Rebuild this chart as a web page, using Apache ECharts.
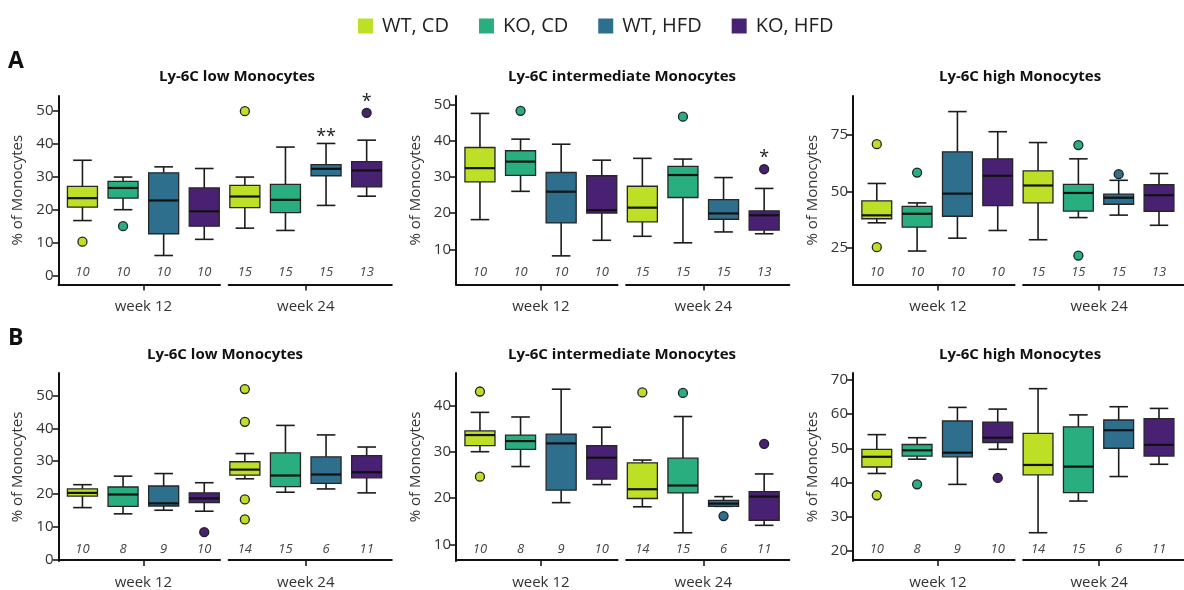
<!DOCTYPE html>
<html><head><meta charset="utf-8">
<script src="https://cdn.jsdelivr.net/npm/echarts@6/dist/echarts.min.js"></script>
<style>html,body{margin:0;padding:0;background:#fff}#c{width:1184px;height:590px}</style>
</head><body><div id="c"></div><script>
// ---------- data ----------
const groups = ['WT, CD', 'KO, CD', 'WT, HFD', 'KO, HFD'];
const groupColors = ['#bddf26', '#29af7f', '#2e6f8e', '#482173'];
const weeks = ['week 12', 'week 24'];
const nA = [10, 10, 10, 10, 15, 15, 15, 13];
const nB = [10, 8, 9, 10, 14, 15, 6, 11];

// each box: [lower whisker, Q1, median, Q3, upper whisker]; order week12 x4 groups, week24 x4 groups
const A_low = [[16.7,20.8,23.5,27.1,35.0],[20.0,23.5,26.6,28.6,29.9],[6.1,12.7,22.8,31.2,33.0],[11.0,15.0,19.5,26.6,32.5],
               [14.4,20.6,24.0,27.4,29.9],[13.7,19.1,23.0,27.7,39.0],[21.3,30.3,32.4,33.7,40.1],[24.1,26.9,31.9,34.6,41.1]];
const A_low_out = [[0,10.3],[1,15.0],[4,49.9],[7,49.4]];
const A_low_sig = [[6,43.3,'**'],[7,53.8,'*']];

const A_int = [[18.2,28.6,32.4,38.1,47.5],[26.0,30.4,34.2,37.2,40.4],[8.2,17.3,25.9,31.2,39.0],[12.5,20.0,20.8,30.3,34.6],
               [13.6,17.6,21.5,27.4,35.1],[11.8,24.3,30.5,32.9,34.9],[14.8,18.3,19.9,23.7,29.8],[14.3,15.3,19.4,20.6,26.8]];
const A_int_out = [[1,48.2],[5,46.6],[7,32.1]];
const A_int_sig = [[7,36.2,'*']];

const A_high = [[36.2,38.0,39.5,45.9,53.6],[23.7,34.3,40.2,43.5,45.0],[29.4,39.1,49.1,67.6,85.4],[32.8,43.8,57.0,64.5,76.5],
                [28.7,45.0,52.7,59.2,71.7],[38.5,41.4,49.4,53.2,64.5],[39.6,44.4,47.3,48.9,55.0],[35.1,41.3,48.4,53.1,58.0]];
const A_high_out = [[0,71.0],[0,25.4],[1,58.4],[5,70.6],[5,21.7],[6,57.7]];

const B_low = [[15.8,19.3,20.3,21.5,22.8],[13.9,16.2,19.8,22.1,25.4],[15.0,16.3,17.1,22.4,26.2],[14.7,17.3,18.6,20.3,23.4],
               [24.6,25.7,27.4,29.8,32.3],[20.5,22.2,25.6,32.5,40.9],[21.5,23.2,25.9,31.3,38.0],[20.3,24.9,26.6,31.7,34.3]];
const B_low_out = [[3,8.3],[4,52.0],[4,42.0],[4,18.3],[4,12.2]];

const B_int = [[30.0,31.3,33.6,34.5,38.5],[26.8,30.5,32.3,33.6,37.5],[19.0,21.7,31.8,33.8,43.5],[22.9,24.1,28.7,31.3,35.3],
               [18.1,19.9,21.9,27.6,28.2],[12.5,21.1,22.7,28.6,37.6],[18.2,18.2,18.8,19.5,20.3],[14.1,15.2,20.3,21.4,25.2]];
const B_int_out = [[0,43.0],[0,24.6],[4,42.8],[5,42.7],[6,16.1],[7,31.7]];

const B_high = [[42.6,44.5,47.5,49.7,54.0],[46.8,47.7,49.4,51.1,53.1],[39.4,47.5,48.7,58.0,62.0],[49.7,51.7,53.1,57.7,61.5],
                [25.2,42.2,45.1,54.4,67.5],[34.5,37.0,44.6,56.3,59.8],[41.7,50.0,55.3,58.3,62.2],[45.3,47.7,51.0,58.7,61.7]];
const B_high_out = [[0,36.2],[1,39.4],[3,41.3]];

const ticks_A_low = [0, 10, 20, 30, 40, 50];
const ticks_A_int = [10, 20, 30, 40, 50];
const ticks_A_high = [25, 50, 75];
const ticks_B_low = [0, 10, 20, 30, 40, 50];
const ticks_B_int = [10, 20, 30, 40];
const ticks_B_high = [20, 30, 40, 50, 60, 70];

const titles = ['Ly-6C low Monocytes', 'Ly-6C intermediate Monocytes', 'Ly-6C high Monocytes'];
const yName = '% of Monocytes';

// ---------- layout ----------
const FONT = 'Open Sans';
const UNIT = 40.6, X0 = -0.59, X1 = 7.62, BRK = [3.39, 3.60];
const colLeft = [58.5, 456, 853];
const rowTop = [96, 373], rowH = [188.5, 188];
const titleX = [[237, 622, 1020], [225, 622, 1020]];
const titleY = [77, 355];

const panels = [
  {row:0,col:0,stats:A_low, out:A_low_out, sig:A_low_sig, n:nA, ticks:ticks_A_low, range:[-2.7,54.5], title:titles[0]},
  {row:0,col:1,stats:A_int, out:A_int_out, sig:A_int_sig, n:nA, ticks:ticks_A_int, range:[0.3,52.3], title:titles[1]},
  {row:0,col:2,stats:A_high,out:A_high_out,sig:[],        n:nA, ticks:ticks_A_high,range:[8.9,92.3], title:titles[2]},
  {row:1,col:0,stats:B_low, out:B_low_out, sig:[],        n:nB, ticks:ticks_B_low, range:[-0.5,56.9], title:titles[0]},
  {row:1,col:1,stats:B_int, out:B_int_out, sig:[],        n:nB, ticks:ticks_B_int, range:[6.4,47.0], title:titles[1]},
  {row:1,col:2,stats:B_high,out:B_high_out,sig:[],        n:nB, ticks:ticks_B_high,range:[16.9,72.1], title:titles[2]}
];

const grid = [], xAxis = [], yAxis = [], series = [], graphic = [];

function renderBox(params, api) {
  const x = api.value(0);
  const lo = api.coord([x, api.value(1)]);
  const q1 = api.coord([x, api.value(2)]);
  const md = api.coord([x, api.value(3)]);
  const q3 = api.coord([x, api.value(4)]);
  const hi = api.coord([x, api.value(5)]);
  const band = api.size([1, 0])[0];
  const bw = band * 0.74, cw = bw * 0.62, cx = lo[0];
  const color = groupColors[api.value(6)];
  const cs = params.coordSys;
  const ls = {stroke: '#1c1c1c', lineWidth: 1.6};
  return {type: 'group', children: [
    {type: 'line', shape: {x1: cx, y1: hi[1], x2: cx, y2: q3[1]}, style: ls},
    {type: 'line', shape: {x1: cx, y1: q1[1], x2: cx, y2: lo[1]}, style: ls},
    {type: 'line', shape: {x1: cx - cw / 2, y1: hi[1], x2: cx + cw / 2, y2: hi[1]}, style: ls},
    {type: 'line', shape: {x1: cx - cw / 2, y1: lo[1], x2: cx + cw / 2, y2: lo[1]}, style: ls},
    {type: 'rect', shape: {x: cx - bw / 2, y: q3[1], width: bw, height: Math.max(q1[1] - q3[1], 1)},
     style: {fill: color, stroke: '#262626', lineWidth: 1.3}},
    {type: 'line', shape: {x1: cx - bw / 2, y1: md[1], x2: cx + bw / 2, y2: md[1]}, style: {stroke: '#111', lineWidth: 2.2}},
    {type: 'text', style: {text: String(api.value(7)), x: cx, y: cs.y + cs.height - 12, align: 'center', verticalAlign: 'middle',
      fontSize: 13, fontStyle: 'italic', fontFamily: FONT, fill: '#444'}}
  ]};
}

panels.forEach((p, pi) => {
  const left = colLeft[p.col], top = rowTop[p.row], h = rowH[p.row];
  const gMain = grid.length;
  grid.push({left: left, top: top, width: (X1 - X0) * UNIT, height: h});
  xAxis.push({gridIndex: gMain, type: 'value', min: X0, max: X1, show: false});
  yAxis.push({gridIndex: gMain, type: 'value', min: p.range[0], max: p.range[1],
    name: yName, nameLocation: 'middle', nameGap: 33, nameTextStyle: {fontSize: 15, color: '#333', fontFamily: FONT},
    axisLine: {show: true, onZero: false, lineStyle: {color: '#111', width: 2}},
    axisTick: {show: true, length: 6, customValues: p.ticks, lineStyle: {color: '#111', width: 1.5}},
    axisLabel: {show: true, customValues: p.ticks, fontSize: 15, color: '#333', margin: 5, fontFamily: FONT},
    splitLine: {show: false}});
  // week axes
  weeks.forEach((w, wi) => {
    const a = wi === 0 ? X0 : BRK[1], b = wi === 0 ? BRK[0] : X1;
    const gi = grid.length;
    grid.push({left: left + (a - X0) * UNIT, top: top, width: (b - a) * UNIT, height: h});
    const center = wi * groups.length + (groups.length - 1) / 2;
    xAxis.push({gridIndex: gi, type: 'value', min: a, max: b,
      axisLine: {show: true, onZero: false, lineStyle: {color: '#111', width: 2}},
      axisTick: {show: true, length: 6, customValues: [center], lineStyle: {color: '#111', width: 1.5}},
      axisLabel: {show: true, customValues: [center], formatter: () => w, fontSize: 15, color: '#333', margin: 15, fontFamily: FONT},
      splitLine: {show: false}});
    yAxis.push({gridIndex: gi, type: 'value', min: 0, max: 1, show: false});
  });
  // boxes
  series.push({type: 'custom', xAxisIndex: gMain, yAxisIndex: gMain, renderItem: renderBox,
    encode: {x: 0, y: [1, 2, 3, 4, 5]}, z: 3, silent: true,
    data: p.stats.map((s, i) => [i, s[0], s[1], s[2], s[3], s[4], i % groups.length, p.n[i]])});
  // outliers
  series.push({type: 'scatter', xAxisIndex: gMain, yAxisIndex: gMain, symbol: 'circle', symbolSize: 9, z: 4, silent: true,
    data: p.out.map(o => ({value: [o[0], o[1]], itemStyle: {color: groupColors[o[0] % groups.length], borderColor: '#222', borderWidth: 1.3, opacity: 1}}))});
  // significance marks
  if (p.sig.length) {
    series.push({type: 'scatter', xAxisIndex: gMain, yAxisIndex: gMain, symbolSize: 1, itemStyle: {color: 'rgba(0,0,0,0)', opacity: 1}, z: 5, silent: true,
      label: {show: true, position: 'inside', formatter: q => q.data.name, fontSize: 18, color: '#222', fontFamily: FONT, offset: [0, 4]},
      data: p.sig.map(s => ({name: s[2], value: [s[0], s[1]]}))});
  }
  graphic.push({type: 'text', x: titleX[p.row][p.col], y: titleY[p.row],
    style: {text: p.title, align: 'center', verticalAlign: 'middle', fontSize: 15, fontWeight: 'bold', fontFamily: FONT, fill: '#111'}});
});

graphic.push({type: 'text', x: 8, y: 61, style: {text: 'A', verticalAlign: 'middle', fontSize: 23, fontWeight: 'bold', fontFamily: FONT, fill: '#111'}});
graphic.push({type: 'text', x: 8, y: 338, style: {text: 'B', verticalAlign: 'middle', fontSize: 23, fontWeight: 'bold', fontFamily: FONT, fill: '#111'}});

// legend dummy series
groups.forEach((g, gi) => {
  series.push({type: 'scatter', name: g, xAxisIndex: 0, yAxisIndex: 0, data: [], itemStyle: {color: groupColors[gi], opacity: 1}});
});

const chart = echarts.init(document.getElementById('c'), null, {renderer: 'canvas'});
chart.setOption({
  animation: false,
  textStyle: {fontFamily: FONT},
  legend: {data: groups, left: 358, top: 16, padding: 0, icon: 'rect', itemWidth: 15, itemHeight: 15, itemGap: 30,
    textStyle: {fontSize: 20, color: '#222', fontFamily: FONT, padding: [0, 0, 0, 4]}},
  grid, xAxis, yAxis, series, graphic
});
</script></body></html>
